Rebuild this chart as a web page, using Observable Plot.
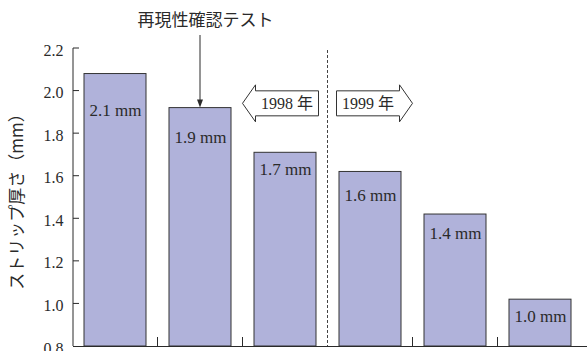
<!DOCTYPE html>
<html>
<head>
<meta charset="utf-8">
<script src="https://cdn.jsdelivr.net/npm/d3@7"></script>
<script src="https://cdn.jsdelivr.net/npm/@observablehq/plot@0.6"></script>
<style>
  html, body { margin: 0; padding: 0; background: #fff; }
</style>
</head>
<body>
<div id="chart"></div>
<script>
// Strip thickness per run (mm); runs 1–3 in 1998, runs 4–6 in 1999
const runs = ["1", "2", "3", "4", "5", "6"];
const thickness = [2.08, 1.92, 1.71, 1.62, 1.42, 1.02];
// level (mm) at which each bar's value label sits
const labelLevels = [1.91, 1.78, 1.63, 1.51, 1.33, 0.94];
const yTicks = [0.8, 1.0, 1.2, 1.4, 1.6, 1.8, 2.0, 2.2];
const yearLabels = ["1998 年", "1999 年"];
const yearLevel = 1.94;
const splitAfter = 3; // runs before the year change
const testRun = "2";  // run marked as the reproducibility test
const title = "再現性確認テスト";
const yLabel = "ストリップ厚さ（mm）";
const unit = "mm";

const bars = runs.map((run, i) => ({run, value: thickness[i], labelAt: labelLevels[i]}));
const fmt = d3.format(".1f");

const serif = "'Liberation Serif', 'Noto Sans CJK JP', serif";
const cjk = "'Noto Sans CJK JP', sans-serif";
const ink = "#2a2a2a";

// Axis ticks, run separators, year divider with arrows, and the test pointer
function annotations(index, scales, values, dims) {
  const x = scales.x, y = scales.y;
  const step = x.step(), bw = x.bandwidth();
  const gap = step - bw;
  const g = d3.create("svg:g").attr("fill", "none").attr("stroke", ink);
  const left = dims.marginLeft;
  const base = y(yTicks[0]);

  // y axis line and inward ticks
  g.append("line").attr("x1", left).attr("x2", left)
    .attr("y1", y(yTicks[yTicks.length - 1])).attr("y2", base);
  for (const t of yTicks.slice(1)) {
    g.append("line").attr("x1", left).attr("x2", left + 6)
      .attr("y1", y(t)).attr("y2", y(t));
  }

  // short ticks between runs
  const bounds = runs.slice(1).map(r => x(r) - gap / 2);
  bounds.forEach((bx, i) => {
    if (i === splitAfter - 1) return;
    g.append("line").attr("x1", bx).attr("x2", bx)
      .attr("y1", base - 9).attr("y2", base);
  });

  // dashed divider between the two years
  const split = bounds[splitAfter - 1];
  g.append("line").attr("x1", split).attr("x2", split)
    .attr("y1", y(yTicks[yTicks.length - 1]) + 2).attr("y2", base)
    .attr("stroke", "#444").attr("stroke-dasharray", "3,2");

  // block arrows pointing away from the divider
  const yc = y(yearLevel);
  const bh = 12.5, hh = 18.5, hl = 13, len = 76, off = 9;
  [-1, 1].forEach((dir, k) => {
    const s = split + dir * off;          // flat end
    const tip = split + dir * (off + len); // arrow tip
    const hb = tip - dir * hl;             // head base
    const pts = [[s, yc - bh], [hb, yc - bh], [hb, yc - hh], [tip, yc],
                 [hb, yc + hh], [hb, yc + bh], [s, yc + bh]];
    g.append("path").attr("d", "M" + pts.map(p => p.join(",")).join("L") + "Z")
      .attr("fill", "#fff").attr("stroke", "#333");
    g.append("text").attr("x", (s + hb) / 2).attr("y", yc)
      .attr("dy", "0.35em").attr("text-anchor", "middle")
      .attr("fill", ink).attr("stroke", "none")
      .attr("font-family", serif).attr("font-size", 16)
      .text(yearLabels[k]);
  });

  // pointer from the heading down to the test run's bar
  const ax = x(testRun) + bw / 2;
  const top = y(thickness[runs.indexOf(testRun)]);
  g.append("line").attr("x1", ax).attr("x2", ax)
    .attr("y1", dims.marginTop - 13).attr("y2", top - 7);
  g.append("path")
    .attr("d", `M${ax - 3},${top - 8}L${ax + 3},${top - 8}L${ax},${top}Z`)
    .attr("fill", ink).attr("stroke", "none");
  return g.node();
}

const chart = Plot.plot({
  width: 587,
  height: 351,
  marginLeft: 73,
  marginRight: 0,
  marginTop: 48,
  marginBottom: 5,
  x: {domain: runs, paddingInner: 0.275, paddingOuter: 0.1435, align: 0.42, axis: null},
  y: {domain: [yTicks[0], yTicks[yTicks.length - 1]], axis: null},
  style: {background: "#fff", color: ink, fontFamily: serif},
  marks: [
    Plot.barY(bars, {x: "run", y1: yTicks[0], y2: "value", fill: "#b0b2da", stroke: "#333", strokeWidth: 1}),
    Plot.text(bars, {
      x: "run", y: "labelAt",
      text: d => `${fmt(d.value)} ${unit}`,
      fontSize: 17, fontFamily: serif, fill: ink
    }),
    Plot.axisY(yTicks, {
      tickSize: 0, tickPadding: 10, tickFormat: fmt, label: null,
      fontSize: 16, fontFamily: serif, dy: 2, fill: ink
    }),
    Plot.ruleY([yTicks[0]], {stroke: ink}),
    Plot.text([yLabel], {
      frameAnchor: "left", textAnchor: "middle", lineAnchor: "middle",
      dx: -56, rotate: -90, fontSize: 17, fontFamily: cjk, fill: ink,
      letterSpacing: "1px"
    }),
    Plot.text([title], {
      x: () => testRun, frameAnchor: "top", lineAnchor: "middle",
      dy: -28, dx: 5, fontSize: 17, fontFamily: cjk, fill: ink
    }),
    annotations
  ]
});

document.getElementById("chart").appendChild(chart);
</script>
</body>
</html>
